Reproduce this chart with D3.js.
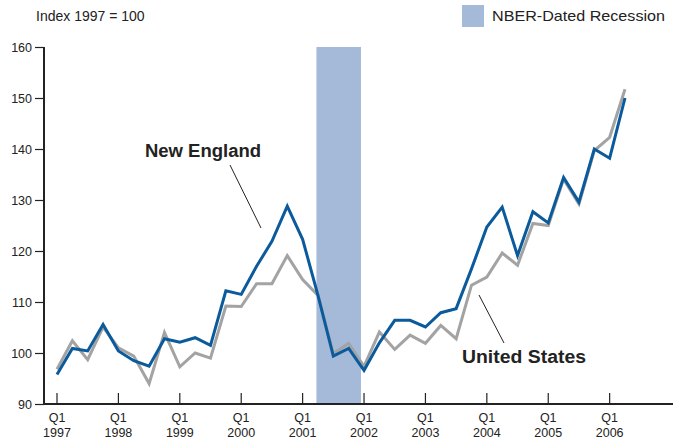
<!DOCTYPE html>
<html>
<head>
<meta charset="utf-8">
<script src="https://cdn.jsdelivr.net/npm/d3@7"></script>
<style>
  body { margin: 0; background: #fff; }
  svg { font-family: "Liberation Sans", Arial, Helvetica, sans-serif; }
</style>
</head>
<body>
<svg id="chart" width="675" height="442"></svg>
<script>
// quarterly index values, Q1 1997 .. Q2 2006
const years = [1997, 1998, 1999, 2000, 2001, 2002, 2003, 2004, 2005, 2006];
const newEngland = [95.8, 100.9, 100.4, 105.6, 100.4, 98.5, 97.4, 102.8, 102.1, 103.0, 101.5, 112.2,
  111.5, 117.0, 121.9, 128.8, 122.3, 111.3, 99.4, 100.9, 96.6, 102.0, 106.4, 106.4,
  105.1, 107.9, 108.7, 116.5, 124.7, 128.6, 119.1, 127.7, 125.5, 134.4, 129.6, 140.0, 138.2, 150.0];
const unitedStates = [96.8, 102.4, 98.7, 105.1, 101.0, 99.4, 94.0, 104.0, 97.3, 100.0, 99.0, 109.2,
  109.1, 113.6, 113.6, 119.1, 114.4, 111.3, 99.9, 101.9, 97.4, 104.1, 100.7, 103.5,
  101.9, 105.4, 102.8, 113.3, 114.9, 119.6, 117.2, 125.4, 125.0, 134.1, 129.2, 139.7, 142.3, 151.7];
const yTicks = [90, 100, 110, 120, 130, 140, 150, 160];
// recession in quarter index units (0 = Q1 1997)
const recession = [16.9, 19.8];

const svg = d3.select("#chart");

const x = d3.scaleLinear().domain([0, 37]).range([57, 625]);
const y = d3.scaleLinear().domain([90, 160]).range([404, 47]);

// recession band
svg.append("rect")
  .attr("x", x(recession[0]))
  .attr("y", y(160))
  .attr("width", x(recession[1]) - x(recession[0]))
  .attr("height", y(90) - y(160))
  .attr("fill", "#a5b9d9");

// y axis
const yAxis = svg.append("g")
  .attr("transform", "translate(44,0)")
  .call(d3.axisLeft(y).tickValues(yTicks).tickSize(9).tickPadding(3));
yAxis.select(".domain").attr("d", `M0,${y(160)}V${y(90)}`).attr("stroke", "#222").attr("stroke-width", 2);
yAxis.selectAll(".tick line").attr("stroke", "#222").attr("stroke-width", 1.2);
yAxis.selectAll(".tick text").attr("font-size", 12.5).attr("fill", "#222")
  .attr("font-family", "Liberation Sans, Arial, sans-serif");

// x axis
svg.append("line")
  .attr("x1", 43).attr("x2", 673)
  .attr("y1", y(90)).attr("y2", y(90))
  .attr("stroke", "#222").attr("stroke-width", 2);

const xt = svg.append("g").selectAll("g")
  .data(years)
  .join("g")
  .attr("transform", d => `translate(${x((d - 1997) * 4)},${y(90)})`);
xt.append("line").attr("y1", 0).attr("y2", -11).attr("stroke", "#222").attr("stroke-width", 1.2);
xt.append("text").attr("y", 18).attr("text-anchor", "middle")
  .attr("font-size", 12.5).attr("fill", "#222").text("Q1");
xt.append("text").attr("y", 33).attr("text-anchor", "middle")
  .attr("font-size", 12.5).attr("fill", "#222").text(d => d);

// lines
const line = d3.line().x((d, i) => x(i)).y(d => y(d));
svg.append("path").datum(unitedStates)
  .attr("fill", "none").attr("stroke", "#a3a3a3").attr("stroke-width", 3)
  .attr("stroke-linejoin", "miter").attr("d", line);
svg.append("path").datum(newEngland)
  .attr("fill", "none").attr("stroke", "#0b5b9c").attr("stroke-width", 3)
  .attr("stroke-linejoin", "miter").attr("d", line);

// labels
svg.append("text").attr("x", 36).attr("y", 21)
  .attr("font-size", 14).attr("fill", "#222").text("Index 1997 = 100");

svg.append("rect").attr("x", 462).attr("y", 5).attr("width", 22).attr("height", 22)
  .attr("fill", "#a5b9d9");
svg.append("text").attr("x", 492).attr("y", 21)
  .attr("font-size", 15).attr("fill", "#222")
  .attr("textLength", 173).attr("lengthAdjust", "spacingAndGlyphs")
  .text("NBER-Dated Recession");

svg.append("text").attr("x", 145).attr("y", 157)
  .attr("font-size", 17.5).attr("font-weight", "bold").attr("fill", "#222")
  .attr("textLength", 116).attr("lengthAdjust", "spacingAndGlyphs")
  .text("New England");
svg.append("line").attr("x1", 230).attr("y1", 165).attr("x2", 261).attr("y2", 228)
  .attr("stroke", "#222").attr("stroke-width", 1);

svg.append("text").attr("x", 462).attr("y", 363)
  .attr("font-size", 17.5).attr("font-weight", "bold").attr("fill", "#222")
  .attr("textLength", 124).attr("lengthAdjust", "spacingAndGlyphs")
  .text("United States");
svg.append("line").attr("x1", 479).attr("y1", 295).attr("x2", 504).attr("y2", 343)
  .attr("stroke", "#222").attr("stroke-width", 1);
</script>
</body>
</html>
